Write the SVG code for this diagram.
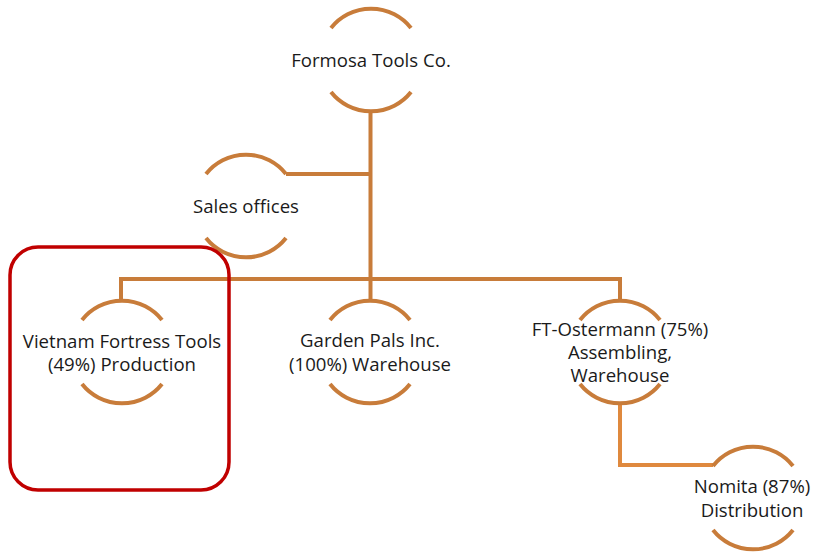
<svg xmlns="http://www.w3.org/2000/svg" width="816" height="554" viewBox="0 0 816 554">
  <style>
    .arc { fill: none; stroke: #C87C3A; stroke-width: 4; }
    .link { fill: none; stroke: #C87C3A; stroke-width: 4; }
    .link2 { fill: none; stroke: #DF893E; stroke-width: 4; }
    .lbl { font-family: "Open Sans", "Liberation Sans", sans-serif; font-size: 18.6px; fill: #1a1a1a; text-anchor: middle; }
    .hl { fill: none; stroke: #C00000; stroke-width: 3.5; }
  </style>
  <defs>
    <!-- open ring: two arcs, gap left and right for the label -->
    <g id="ring">
      <path class="arc" d="M-40,-32 A51,51 0 0 1 40,-32"/>
      <path class="arc" d="M40,32 A51,51 0 0 1 -40,32"/>
    </g>
  </defs>
  <rect width="816" height="554" fill="#ffffff"/>

  <g id="connectors">
    <path class="link" d="M370.5,111 V279"/>
    <path class="link" d="M286,174 H370.5"/>
    <path class="link" d="M121,302 V279 H620 V302"/>
    <path class="link" d="M370.5,279 V302"/>
    <path class="link2" d="M620,402 V465 H713"/>
  </g>

  <g id="formosa">
    <use href="#ring" x="371" y="60"/>
    <text class="lbl" x="371" y="67">Formosa Tools Co.</text>
  </g>

  <g id="sales">
    <use href="#ring" x="246" y="206"/>
    <text class="lbl" x="246" y="213">Sales offices</text>
  </g>

  <g id="vietnam">
    <use href="#ring" x="122" y="352"/>
    <text class="lbl" x="122" y="348">Vietnam Fortress Tools</text>
    <text class="lbl" x="122" y="371">(49%) Production</text>
  </g>

  <g id="garden">
    <use href="#ring" x="370" y="352"/>
    <text class="lbl" x="370" y="347">Garden Pals Inc.</text>
    <text class="lbl" x="370" y="371">(100%) Warehouse</text>
  </g>

  <g id="ostermann">
    <use href="#ring" x="620" y="352"/>
    <text class="lbl" x="620" y="336">FT-Ostermann (75%)</text>
    <text class="lbl" x="620" y="359">Assembling,</text>
    <text class="lbl" x="620" y="382">Warehouse</text>
  </g>

  <g id="nomita">
    <use href="#ring" x="753" y="498"/>
    <text class="lbl" x="752" y="493">Nomita (87%)</text>
    <text class="lbl" x="752" y="517">Distribution</text>
  </g>

  <g id="highlight">
    <rect class="hl" x="10" y="247" width="219" height="243" rx="28" ry="28"/>
  </g>
</svg>
